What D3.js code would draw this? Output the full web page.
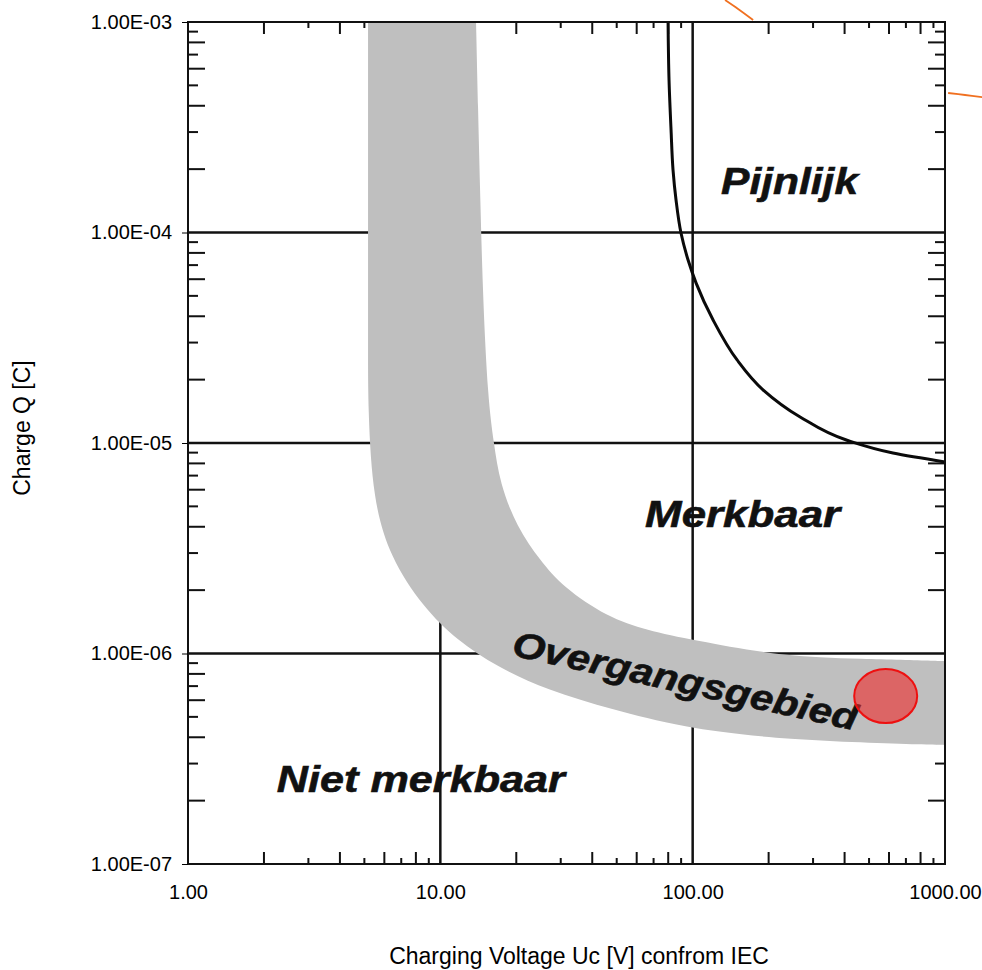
<!DOCTYPE html>
<html><head><meta charset="utf-8">
<script src="https://cdn.jsdelivr.net/npm/d3@7"></script>
<style>body{margin:0;background:#fff}svg{display:block}</style>
</head><body><svg id="c" width="982" height="970"></svg>
<script>
// ---- data ----
const xTickValues = [1, 10, 100, 1000];
const xTickLabels = ["1.00", "10.00", "100.00", "1000.00"];
const yTickValues = [1e-3, 1e-4, 1e-5, 1e-6, 1e-7];
const yTickLabels = ["1.00E-03", "1.00E-04", "1.00E-05", "1.00E-06", "1.00E-07"];
const gridU = [10, 100];
const gridQ = [1e-4, 1e-5, 1e-6];
// pain threshold curve (Pijnlijk boundary)
const painU = [79.9, 80.6, 82.1, 83.6, 85.9, 89.9, 95.9, 103.2, 120.5, 150, 190, 266.6, 409, 622, 1000];
const painQ = [1e-3, 5.30e-4, 3.07e-4, 1.98e-4, 1.43e-4, 9.94e-5, 7.40e-5, 5.75e-5, 3.84e-5, 2.48e-5, 1.79e-5, 1.33e-5, 1.03e-5, 8.96e-6, 8.13e-6];
// transition band (Overgangsgebied) edges
const bandUpperU = [13.85, 14.1, 14.4, 14.76, 15.45, 16.3, 17.2, 20.1, 24.8, 30.6, 45.8, 65.9, 100, 222, 461, 1000, 1000];
const bandUpperQ = [1e-3, 4e-4, 1.43e-4, 4.78e-5, 1.6e-5, 1e-5, 6.45e-6, 3.99e-6, 2.78e-6, 2.07e-6, 1.49e-6, 1.29e-6, 1.16e-6, 9.72e-7, 9.42e-7, 9.21e-7, 9.21e-7];
const bandLowerU = [5.17, 5.17, 5.17, 5.17, 5.41, 6.32, 8.54, 11.6, 16.8, 26.5, 48.4, 89.1, 222, 1000, 1000];
const bandLowerQ = [1e-3, 1e-4, 3e-5, 1.4e-5, 5.36e-6, 2.87e-6, 1.66e-6, 1.16e-6, 8.63e-7, 6.71e-7, 5.4e-7, 4.48e-7, 3.88e-7, 3.67e-7, 3.67e-7];
// highlighted point
const markerU = [582];
const markerQ = [6.28e-7];
// zone labels
const zoneLabels = ["Pijnlijk", "Merkbaar", "Overgangsgebied", "Niet merkbaar"];
const zoneU = [129.6, 64.8, 19.0, 2.25];
const zoneQ = [1.52e-4, 3.99e-6, 9.8e-7, 2.2e-7];
// orange annotation fragments
const orange1U = [134.4, 151.4, 173.6];
const orange1Q = [1.272e-3, 1.153e-3, 1.022e-3];
const orange2U = [1029, 1201, 1403];
const orange2Q = [4.6e-4, 4.5e-4, 4.4e-4];
const xTitle = "Charging Voltage Uc [V] confrom IEC";
const yTitle = "Charge Q [C]";

// ---- layout ----
const W = 982, H = 970;
const m = {left: 188, top: 22, right: 37, bottom: 106};
const pw = W - m.left - m.right, ph = H - m.top - m.bottom;
const svg = d3.select("#c");
const g = svg.append("g").attr("transform", `translate(${m.left},${m.top})`);
const x = d3.scaleLog().domain([1, 1000]).range([0, pw]);
const y = d3.scaleLog().domain([1e-7, 1e-3]).range([ph, 0]);
const FONT = "'Liberation Sans', Arial, Helvetica, sans-serif";

// scanned-chart gridlines
g.selectAll("line.gh").data(gridQ).join("line")
  .attr("x1", 0).attr("x2", pw).attr("y1", d => y(d)).attr("y2", d => y(d))
  .attr("stroke", "#111").attr("stroke-width", 2.5);
g.selectAll("line.gv").data(gridU).join("line")
  .attr("y1", 0).attr("y2", ph).attr("x1", d => x(d)).attr("x2", d => x(d))
  .attr("stroke", "#111").attr("stroke-width", 2.5);

// minor ticks along the scanned frame
const minorX = [], minorY = [];
[1, 10, 100].forEach(d => { for (let k = 2; k <= 9; k++) minorX.push({v: d * k, long: k % 2 === 0}); });
[1e-7, 1e-6, 1e-5, 1e-4].forEach(d => { for (let k = 2; k <= 9; k++) minorY.push({v: d * k, long: k % 2 === 0}); });
const tk = g.append("g").attr("stroke", "#111").attr("stroke-width", 2);
tk.selectAll("line.tb").data(minorX).join("line")
  .attr("x1", d => x(d.v)).attr("x2", d => x(d.v)).attr("y1", ph).attr("y2", d => ph - (d.long ? 12 : 6));
tk.selectAll("line.tt").data(minorX).join("line")
  .attr("x1", d => x(d.v)).attr("x2", d => x(d.v)).attr("y1", 0).attr("y2", d => (d.long ? 12 : 6));
tk.selectAll("line.tl").data(minorY).join("line")
  .attr("y1", d => y(d.v)).attr("y2", d => y(d.v)).attr("x1", 0).attr("x2", d => (d.long ? 17 : 10));
tk.selectAll("line.tr").data(minorY).join("line")
  .attr("y1", d => y(d.v)).attr("y2", d => y(d.v)).attr("x1", pw).attr("x2", d => pw - (d.long ? 17 : 10));

// transition band
const lgB = d3.line().x(d => x(d[0])).y(d => y(d[1])).curve(d3.curveBasis);
const lgY = d3.line().x(d => x(d[0])).y(d => y(d[1])).curve(d3.curveMonotoneY);
const lg = d3.line().x(d => x(d[0])).y(d => y(d[1])).curve(d3.curveCatmullRom.alpha(0.5));
const upper = d3.zip(bandUpperU, bandUpperQ);
const lower = d3.zip(bandLowerU, bandLowerQ).reverse();
g.append("path")
  .attr("d", lgB(upper) + lgB(lower).replace(/^M/, "L") + "Z")
  .attr("fill", "#bfbfbf");

// pain curve
g.append("path").attr("d", lgY(d3.zip(painU, painQ)))
  .attr("fill", "none").attr("stroke", "#0a0a0a").attr("stroke-width", 3);

// frame of the scanned chart
g.append("rect").attr("x", 0).attr("y", 0).attr("width", pw).attr("height", ph)
  .attr("fill", "none").attr("stroke", "#111").attr("stroke-width", 2);

// zone labels
const zoneLen = [137, 195, 352, 288];
const zl = g.append("g").attr("font-family", FONT).attr("font-weight", "bold")
  .attr("font-style", "italic").attr("font-size", 36).attr("fill", "#111")
  .attr("stroke", "#111").attr("stroke-width", 0.6);
zoneLabels.forEach((t, i) => {
  const px = x(zoneU[i]), py = y(zoneQ[i]);
  const txt = zl.append("text").attr("x", px).attr("y", py)
    .attr("textLength", zoneLen[i]).attr("lengthAdjust", "spacingAndGlyphs").text(t);
  if (t === "Overgangsgebied") txt.attr("transform", `rotate(12.3,${px},${py})`);
});

// highlighted marker
g.selectAll("ellipse.mk").data(d3.zip(markerU, markerQ)).join("ellipse")
  .attr("cx", d => x(d[0])).attr("cy", d => y(d[1])).attr("rx", 31.5).attr("ry", 27)
  .attr("fill", "#f02a2a").attr("fill-opacity", 0.6).attr("stroke", "#ee1010").attr("stroke-width", 2);

// orange fragments
[[orange1U, orange1Q], [orange2U, orange2Q]].forEach(([u, q]) => {
  g.append("path").attr("d", lg(d3.zip(u, q))).attr("fill", "none")
    .attr("stroke", "#f07020").attr("stroke-width", 1.8);
});

// axes
const ya = g.append("g").call(d3.axisLeft(y).tickValues(yTickValues)
  .tickFormat((d, i) => yTickLabels[i]).tickSize(6).tickPadding(10));
const xa = g.append("g").attr("transform", `translate(0,${ph})`).call(d3.axisBottom(x)
  .tickValues(xTickValues).tickFormat((d, i) => xTickLabels[i]).tickSize(0).tickPadding(21));
[ya, xa].forEach(a => {
  a.select(".domain").remove();
  a.attr("font-family", FONT).attr("font-size", 20);
  a.selectAll("text").attr("fill", "#000");
  a.selectAll("line").attr("stroke", "#000");
});

// titles
svg.append("text").attr("x", 579).attr("y", 964).attr("text-anchor", "middle")
  .attr("font-family", FONT).attr("font-size", 23).attr("fill", "#000").text(xTitle);
svg.append("text").attr("transform", "translate(22,428) rotate(-90)").attr("text-anchor", "middle")
  .attr("dominant-baseline", "central")
  .attr("font-family", FONT).attr("font-size", 23).attr("fill", "#000").text(yTitle);
</script></body></html>
